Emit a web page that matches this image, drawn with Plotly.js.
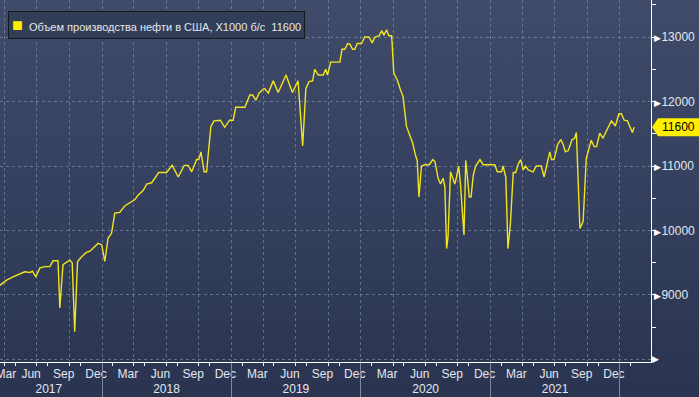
<!DOCTYPE html>
<html>
<head>
<meta charset="utf-8">
<script src="https://cdn.plot.ly/plotly-3.0.1.min.js"></script>
<style>
html,body{margin:0;padding:0;}
#chart{width:699px;height:397px;background:linear-gradient(to bottom,#3f4b68 0%,#34405d 50%,#2a3451 100%);}
</style>
</head>
<body>
<div id="chart"></div>
<script>
// Weekly US crude oil production, thousand barrels/day
const dates = [
'2017-03-19','2017-04-07','2017-04-25','2017-05-14','2017-05-28','2017-06-12','2017-06-19','2017-06-28','2017-07-10','2017-07-24',
'2017-08-07','2017-08-16','2017-08-30','2017-09-04','2017-09-13','2017-10-02','2017-10-09','2017-10-16','2017-10-24','2017-11-04',
'2017-11-18','2017-11-28','2017-12-12','2017-12-21','2017-12-31',
'2018-01-09','2018-01-18','2018-01-28','2018-02-06','2018-02-20','2018-03-06','2018-03-21','2018-04-04','2018-04-13','2018-04-27',
'2018-05-07','2018-05-21','2018-05-30','2018-06-10','2018-07-02','2018-07-18','2018-08-04','2018-08-21','2018-09-01','2018-09-11',
'2018-09-25','2018-10-01','2018-10-07','2018-10-16','2018-10-23','2018-11-04','2018-11-13','2018-12-01','2018-12-13','2018-12-27',
'2019-01-06','2019-01-13','2019-02-08','2019-02-22','2019-03-02','2019-03-11','2019-03-20','2019-03-31','2019-04-05','2019-04-15',
'2019-04-29','2019-05-13','2019-06-04','2019-06-22','2019-07-08','2019-07-21','2019-07-30','2019-08-08','2019-08-18','2019-08-24',
'2019-09-03','2019-09-17','2019-09-24','2019-09-29','2019-10-08','2019-11-03','2019-11-09','2019-11-17','2019-11-25','2019-12-01',
'2019-12-09','2019-12-15','2019-12-22',
'2020-01-03','2020-01-12','2020-01-24','2020-02-02','2020-02-10','2020-02-22','2020-02-29','2020-03-06','2020-03-14','2020-03-20',
'2020-03-28','2020-04-03','2020-04-13','2020-04-22','2020-04-29','2020-05-09','2020-05-18','2020-05-26','2020-06-04','2020-06-08',
'2020-06-13','2020-06-20','2020-06-30','2020-07-12','2020-07-22','2020-07-28','2020-08-06','2020-08-13','2020-08-20','2020-08-25',
'2020-08-30','2020-09-03','2020-09-10','2020-09-17','2020-09-22','2020-09-27','2020-10-03','2020-10-08','2020-10-18','2020-10-23',
'2020-10-27','2020-11-02','2020-11-07','2020-11-13','2020-11-20','2020-12-02','2020-12-11',
'2021-01-13','2021-01-20','2021-02-01','2021-02-05','2021-02-13','2021-02-19','2021-02-26','2021-03-06','2021-03-13','2021-03-20',
'2021-03-27','2021-04-03','2021-04-10','2021-04-17','2021-05-01','2021-05-10','2021-05-24','2021-06-01','2021-06-10','2021-06-17',
'2021-06-22','2021-06-29','2021-07-09','2021-07-18','2021-07-25','2021-07-31','2021-08-08','2021-08-19','2021-08-26','2021-08-31',
'2021-09-10','2021-09-19','2021-09-28','2021-10-08','2021-10-12','2021-10-20','2021-10-27','2021-11-05','2021-11-14','2021-11-26',
'2021-12-08','2021-12-19','2021-12-29',
'2022-01-05','2022-01-13','2022-01-22','2022-02-05','2022-02-10'
];
const values = [
9150,9230,9280,9330,9360,9350,9370,9280,9420,9440,
9440,9530,9530,8800,9470,9540,9500,8430,9520,9590,
9660,9680,9760,9800,9780,
9520,9880,9960,10270,10280,10380,10430,10480,10550,10620,
10720,10740,10810,10900,10900,11010,10830,11010,11010,10910,
11100,11100,11220,10910,10910,11610,11700,11710,11600,11710,
11710,11910,11910,12100,12100,12020,12130,12190,12200,12130,
12320,12140,12410,12140,12320,11310,12200,12310,12320,12500,
12410,12410,12500,12410,12610,12610,12810,12810,12900,12890,
12810,12810,12900,
12900,13000,13000,12910,13000,13020,13100,13030,13110,13020,
13020,12440,12330,12180,12080,11610,11460,11360,11150,11090,
10520,11000,11020,11020,11100,11070,10810,10720,10810,10680,
9720,9900,10910,10810,10720,10830,11000,10720,9930,11090,
10840,10520,10520,10850,11000,11100,11020,
11020,10910,10910,11000,10830,9720,10110,10900,10900,11030,
11100,10940,11000,10940,10910,11000,11000,10830,11070,11220,
11100,11100,11330,11410,11330,11220,11240,11410,11430,11520,
10030,10140,11120,11350,11400,11300,11300,11510,11430,11570,
11700,11620,11810,
11810,11710,11700,11520,11600
];
const seriesName = 'Объем производства нефти в США, X1000 б/с';
const lastValue = 11600;

// Axis labels
const monthLabelDates = ['2017-04-05','2017-06-15','2017-09-15','2017-12-15',
  '2018-03-15','2018-06-15','2018-09-15','2018-12-15',
  '2019-03-15','2019-06-15','2019-09-15','2019-12-15',
  '2020-03-15','2020-06-15','2020-09-15','2020-12-15',
  '2021-03-15','2021-06-15','2021-09-15','2021-12-15'];
const monthLabels = ['Mar','Jun','Sep','Dec','Mar','Jun','Sep','Dec','Mar','Jun','Sep','Dec',
  'Mar','Jun','Sep','Dec','Mar','Jun','Sep','Dec'];
const yearLabelDates = ['2017-08-04','2018-07-02','2019-07-02','2020-07-02','2021-07-02'];
const yearLabels = ['2017','2018','2019','2020','2021'];
const yTickVals = [8000,9000,10000,11000,12000,13000];
const yTickLabels = ['','9000','10000','11000','12000','13000'];

const xRange = ['2017-03-19 07:00','2022-03-29 12:00'];
const yRange = [7961,13574];

const quarterStarts = [], secondMonthStarts = [], yearStarts = [];
for (let yr = 2017; yr <= 2022; yr++) {
  ['01','04','07','10'].forEach(m => quarterStarts.push(yr + '-' + m + '-01'));
  ['02','05','08','11'].forEach(m => secondMonthStarts.push(yr + '-' + m + '-01'));
  if (yr >= 2018) yearStarts.push(yr + '-01-01');
}

const FONT = 'Liberation Sans, Arial, sans-serif';
const TXT = '#e3e7ee';
const GRID = 'rgba(140,160,190,0.55)';
const TAG = '#ffee00';

const tri = '<span style="color:#ffffff;font-size:9px">▶</span>';

const traces = [
  {x: dates, y: values, type: 'scatter', mode: 'lines', name: seriesName,
   line: {color: '#f2e41e', width: 1.4}, showlegend: false, hoverinfo: 'x+y'},
  {x: xRange, y: [null, null], xaxis: 'x2', type: 'scatter', mode: 'lines', showlegend: false, hoverinfo: 'skip'},
  {x: xRange, y: [null, null], xaxis: 'x3', type: 'scatter', mode: 'lines', showlegend: false, hoverinfo: 'skip'},
  {x: xRange, y: [null, null], xaxis: 'x4', type: 'scatter', mode: 'lines', showlegend: false, hoverinfo: 'skip'}
];

const tagY = (lastValue - yRange[0]) / (yRange[1] - yRange[0]);

const layout = {
  width: 699, height: 397,
  margin: {l: 0, r: 48, t: 0, b: 35, pad: 0},
  paper_bgcolor: 'rgba(0,0,0,0)',
  plot_bgcolor: 'rgba(0,0,0,0)',
  font: {family: FONT, size: 12, color: TXT},
  showlegend: false,
  xaxis: {
    type: 'date', range: xRange, tickmode: 'array', tickvals: quarterStarts,
    showticklabels: false, ticks: 'outside', ticklen: 3, tickcolor: '#ffffff', tickwidth: 1,
    showgrid: true, gridcolor: GRID, griddash: '3px,3px', gridwidth: 1,
    showline: true, linecolor: '#ffffff', linewidth: 1, zeroline: false,
    minor: {tickmode: 'array', tickvals: secondMonthStarts, ticks: 'outside', ticklen: 3,
            tickcolor: '#ffffff', tickwidth: 1, showgrid: false}
  },
  xaxis2: {
    type: 'date', range: xRange, overlaying: 'x', anchor: 'y', side: 'bottom',
    tickmode: 'array', tickvals: monthLabelDates, ticktext: monthLabels,
    ticks: '', showgrid: false, showline: false, zeroline: false, ticklabeloverflow: 'allow',
    tickfont: {family: FONT, size: 12, color: TXT}, ticklabelstandoff: 3
  },
  xaxis3: {
    type: 'date', range: xRange, overlaying: 'x', anchor: 'y', side: 'bottom',
    tickmode: 'array', tickvals: yearLabelDates, ticktext: yearLabels,
    ticks: '', showgrid: false, showline: false, zeroline: false,
    tickfont: {family: FONT, size: 12, color: TXT}, ticklabelstandoff: 18
  },
  xaxis4: {
    type: 'date', range: xRange, overlaying: 'x', anchor: 'y', side: 'bottom',
    tickmode: 'array', tickvals: yearStarts, showticklabels: false,
    ticks: 'outside', ticklen: 36, tickcolor: '#7d889d', tickwidth: 1,
    showgrid: false, showline: false, zeroline: false
  },
  yaxis: {
    range: yRange, side: 'right', tickmode: 'array', tickvals: yTickVals,
    ticktext: yTickLabels.map(t => t ? tri + t : ''), ticklabeloverflow: 'allow',
    ticks: '', showgrid: true, gridcolor: GRID, griddash: '3px,3px', gridwidth: 1,
    showline: true, linecolor: '#ffffff', linewidth: 1, zeroline: false,
    tickfont: {family: FONT, size: 12, color: TXT}, ticklabelstandoff: 0,
    minor: {tickmode: 'linear', tick0: 0, dtick: 500, ticks: 'outside', ticklen: 4,
            tickcolor: '#ffffff', tickwidth: 1, showgrid: false}
  },
  shapes: [
    {type: 'path', xref: 'paper', yref: 'paper', xsizemode: 'pixel', ysizemode: 'pixel',
     xanchor: 1, yanchor: tagY,
     path: 'M1,0 L7,9 L48,9 L48,-9 L7,-9 Z',
     fillcolor: TAG, line: {width: 0}, layer: 'above'}
  ],
  annotations: [
    {xref: 'paper', yref: 'paper', x: 8/651, y: 1, yshift: -11, xanchor: 'left', yanchor: 'top',
     showarrow: false, align: 'left',
     text: '<span style="color:#ffee00;font-size:18px">■</span>&nbsp;&nbsp;' + seriesName + '&nbsp;&nbsp;' + lastValue,
     font: {family: FONT, size: 11, color: TXT},
     bgcolor: '#323d57', bordercolor: '#141922', borderwidth: 1, borderpad: 3},
    {xref: 'paper', yref: 'y', x: 1, y: lastValue, xanchor: 'left', yanchor: 'middle', xshift: 9,
     showarrow: false, text: String(lastValue),
     font: {family: FONT, size: 12, color: '#000000'}},
    {xref: 'paper', yref: 'y', x: 1, y: yTickVals[0], xanchor: 'left', yanchor: 'middle', xshift: -1,
     showarrow: false, text: '▶', font: {family: 'DejaVu Sans', size: 9, color: '#ffffff'}}
  ]
};

Plotly.newPlot('chart', traces, layout, {displayModeBar: false, staticPlot: true});
</script>
</body>
</html>
